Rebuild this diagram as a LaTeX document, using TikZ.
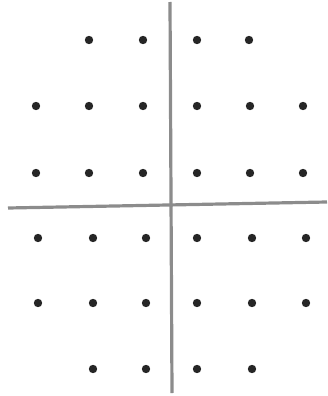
\documentclass[tikz,border=0pt]{standalone}
\begin{document}
\begin{tikzpicture}[x=1pt, y=-1pt]
            \useasboundingbox (0,0) rectangle (327,396);
            \draw[line width=3.2pt, black!45] (170,2) -- (172,393);
            \draw[line width=3.2pt, black!45] (8,208) -- (327,202);
            \foreach \x in {89,143,197,249} \fill[black!85] (\x,40) circle (4.2pt);
            \foreach \y in {106,173} \foreach \x in {36,89,143,197,250,303} \fill[black!85] (\x,\y) circle (4.2pt);
            \foreach \y in {238,303} \foreach \x in {38,93,146,197,252,306} \fill[black!85] (\x,\y) circle (4.2pt);
            \foreach \x in {93,146,197,252} \fill[black!85] (\x,369) circle (4.2pt);
        \end{tikzpicture}
\end{document}
